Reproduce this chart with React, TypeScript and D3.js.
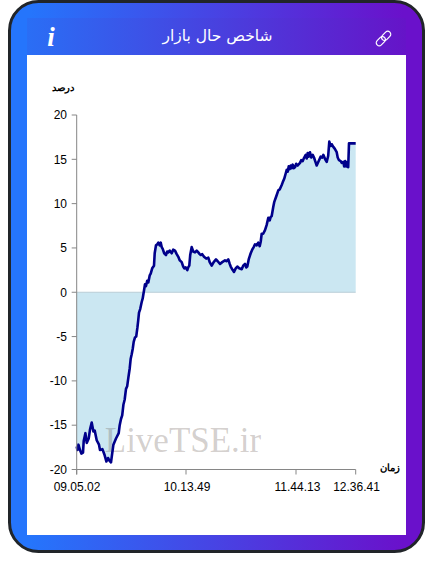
import * as d3 from 'd3';

const W = 433;
const H = 574;

// sample position along the category axis, and the index value there
const samples = [0, 0.7, 1.7, 3.3, 4.7, 6.3, 7, 8.7, 10, 12, 13.3, 15, 16.7, 18, 20, 22.3, 23.3, 25.7, 27.7, 29.7, 31.3, 32.7, 34.3, 36.7, 39.3, 42, 43, 44.3, 45.5, 46.7, 48, 49.3, 50.5, 51.7, 53, 54, 55, 56, 57, 58.3, 59.5, 60.7, 61.5, 62.3, 63.5, 65, 66, 67.3, 68.3, 69.3, 70.5, 71.6, 73, 74, 75.5, 77.3, 78, 79.3, 80.5, 81.6, 83, 84, 85, 86, 87.5, 89.3, 90.5, 91.6, 93, 95, 96.5, 98.3, 100, 101.6, 103, 105, 106.5, 107.6, 109, 110.6, 111.5, 112.6, 113.5, 115, 116.5, 118.3, 120, 121.6, 123, 124, 125.5, 127.3, 129.5, 131.6, 133, 135, 137, 139.3, 141, 143.3, 145.5, 148.3, 150, 151.6, 153, 154, 156, 157.3, 159, 160.6, 162.5, 165, 166.5, 168.3, 169.5, 170.6, 172, 174, 175.5, 177, 178.3, 180, 181.6, 183, 184, 185, 186.5, 188.3, 190, 191.6, 193, 194, 195, 196.5, 197.6, 199.5, 201.6, 203, 205, 206, 207.5, 209, 210, 211, 212, 213, 214, 215, 216, 217, 218.3, 219.5, 221, 223.3, 224.5, 226, 227.5, 229, 230, 231, 232, 233.3, 234.5, 236, 237.3, 238.5, 240, 242, 244, 245.5, 246.6, 248.5, 250, 251.5, 252.6, 254, 255, 256.6, 258, 260, 261, 262.3, 264, 265, 266.6, 267.5, 268.5, 269.5, 270.6, 271.5, 272.3, 279];
const values = [-17.4, -17.8, -17.2, -17.8, -18.2, -18.1, -16.8, -15.9, -17, -16.5, -15.5, -14.7, -15.7, -15.6, -16.7, -17.2, -17.8, -17.7, -18.3, -19.1, -18.7, -19, -19.2, -17.2, -16.5, -15.9, -15, -14.3, -13.9, -12.7, -12.1, -10.9, -10.6, -9.6, -8.6, -7.5, -7, -6.4, -5.6, -5.1, -5, -4, -3.2, -2.3, -1.9, -1.1, -0.7, 0.2, 0.9, 0.7, 1.3, 1.1, 1.9, 2.1, 2.7, 3, 4.4, 5.3, 5.4, 5.6, 5.3, 5.6, 5.1, 4.9, 4.4, 4.2, 4.6, 4.5, 4.7, 4.4, 4.8, 4.7, 4.3, 4, 3.6, 3.4, 2.9, 2.7, 2.8, 2.5, 2.8, 3, 4.2, 5.1, 4.6, 4.5, 4.7, 4.5, 4.3, 4.2, 4.3, 4, 3.8, 3.9, 3.4, 3, 3.4, 3.7, 3.5, 3.2, 3.4, 3.6, 3.5, 3.7, 3.2, 2.9, 2.5, 2.3, 2.7, 2.9, 2.7, 2.6, 3, 3.2, 2.8, 2.9, 3.7, 4.4, 4.8, 5.1, 5.4, 5.3, 5.6, 5.2, 5.7, 6.6, 6.6, 7, 7.6, 8.4, 8.1, 8.5, 8.6, 9.6, 10.2, 10.8, 11.5, 11.6, 12.1, 12.4, 12.8, 13.4, 13.8, 13.6, 14.2, 13.9, 14.3, 14, 14.4, 14, 14.1, 14.5, 14.3, 14.6, 14.9, 14.8, 15.2, 15.5, 15.1, 15.7, 15.3, 15.8, 15.2, 15.5, 15.2, 14.8, 14.3, 14.8, 15.3, 15.2, 15.5, 15, 14.7, 15.4, 17, 16.5, 16.7, 16.4, 16.2, 15.8, 15.2, 14.9, 14.8, 14.6, 14.7, 14.2, 14.8, 14.2, 14.7, 14.1, 16.8, 16.8];

const timeTicks = [0, 109.3, 219.3, 279];
const timeLabels = ['09.05.02', '10.13.49', '11.44.13', '12.36.41'];
const percentTicks = [20, 15, 10, 5, 0, -5, -10, -15, -20];

const x = d3.scaleLinear().domain([0, 279]).range([76.7, 355.7]);
const y = d3.scaleLinear().domain([-20, 20]).range([469.5, 115]);

const points = samples.map((s, i) => [s, values[i]] as [number, number]);

const line = d3.line<[number, number]>()
  .x((d) => x(d[0]))
  .y((d) => y(d[1]));

const area = d3.area<[number, number]>()
  .x((d) => x(d[0]))
  .y0(y(0))
  .y1((d) => y(d[1]));

const App = () => {
  const axisColor = '#868686';
  const font = '"Liberation Sans", Arial, sans-serif';
  const persian = '"DejaVu Sans", sans-serif';

  return (
    <svg width={W} height={H} style={{ position: 'absolute', left: 0, top: 0, background: '#fff' }}>
      <defs>
        <linearGradient id="card" x1="0" y1="0" x2="1" y2="0">
          <stop offset="0.05" stopColor="#2575fc" />
          <stop offset="0.95" stopColor="#6a11cb" />
        </linearGradient>
        <linearGradient id="head" x1="0" y1="0" x2="1" y2="0">
          <stop offset="0" stopColor="#2a6ef5" />
          <stop offset="1" stopColor="#6614c8" />
        </linearGradient>
      </defs>

      <rect x={9.5} y={1.5} width={414} height={550} rx={29} fill="url(#card)" stroke="#212529" strokeWidth={3} />
      <rect x={27} y={18} width={379} height={37} fill="url(#head)" />
      <rect x={27} y={55} width={379} height={480} fill="#fff" />

      {/* header */}
      <text x={217.5} y={41} textAnchor="middle" fill="#fff" fontSize={15.5} fontFamily={persian} direction="rtl">
        شاخص حال بازار
      </text>
      <text x={51} y={46} textAnchor="middle" fill="#fff" fontSize={27} fontWeight="bold" fontStyle="italic" fontFamily='"Liberation Serif", serif'>
        i
      </text>
      <g transform="translate(383.5 38.5) rotate(-45)" fill="none" stroke="#fff" strokeWidth={1.2}>
        <rect x={-9} y={-3} width={10.5} height={6} rx={3} />
        <rect x={-1.5} y={-3} width={10.5} height={6} rx={3} />
      </g>

      {/* chart */}
      <path d={area(points) ?? ''} fill="#cbe7f2" />
      <line x1={x(0)} x2={x(279)} y1={y(0)} y2={y(0)} stroke="#b9cdd6" strokeWidth={1} />
      <text x={183} y={452} textAnchor="middle" fontSize={35} fontFamily='"Liberation Serif", serif' fill="#5a4a40" fillOpacity={0.27}>
        LiveTSE.ir
      </text>
      <path d={line(points) ?? ''} fill="none" stroke="#00008b" strokeWidth={2.6} strokeLinejoin="round" />

      <line x1={x(0)} x2={x(0)} y1={y(20)} y2={y(-20) + 5} stroke={axisColor} />
      <line x1={x(0)} x2={x(279)} y1={y(-20)} y2={y(-20)} stroke={axisColor} />
      {percentTicks.map((t) => (
        <g key={t}>
          <line x1={x(0) - 5} x2={x(0)} y1={y(t)} y2={y(t)} stroke={axisColor} />
          <text x={67} y={y(t) + 4.3} textAnchor="end" fontSize={12} fontFamily={font} fill="#000">
            {t}
          </text>
        </g>
      ))}
      {timeTicks.map((t, i) => (
        <g key={t}>
          <line x1={x(t)} x2={x(t)} y1={y(-20)} y2={y(-20) + 5} stroke={axisColor} />
          <text x={[77, 187, 297.5, 356.5][i]} y={491} textAnchor="middle" fontSize={12} fontFamily={font} fill="#000">
            {timeLabels[i]}
          </text>
        </g>
      ))}

      <text x={63} y={91} textAnchor="middle" fontSize={10} fontWeight="bold" fontFamily={font} fill="#000">
        درصد
      </text>
      <text x={390} y={471} textAnchor="middle" fontSize={10} fontWeight="bold" fontFamily={font} fill="#000">
        زمان
      </text>
    </svg>
  );
};

export default App;
